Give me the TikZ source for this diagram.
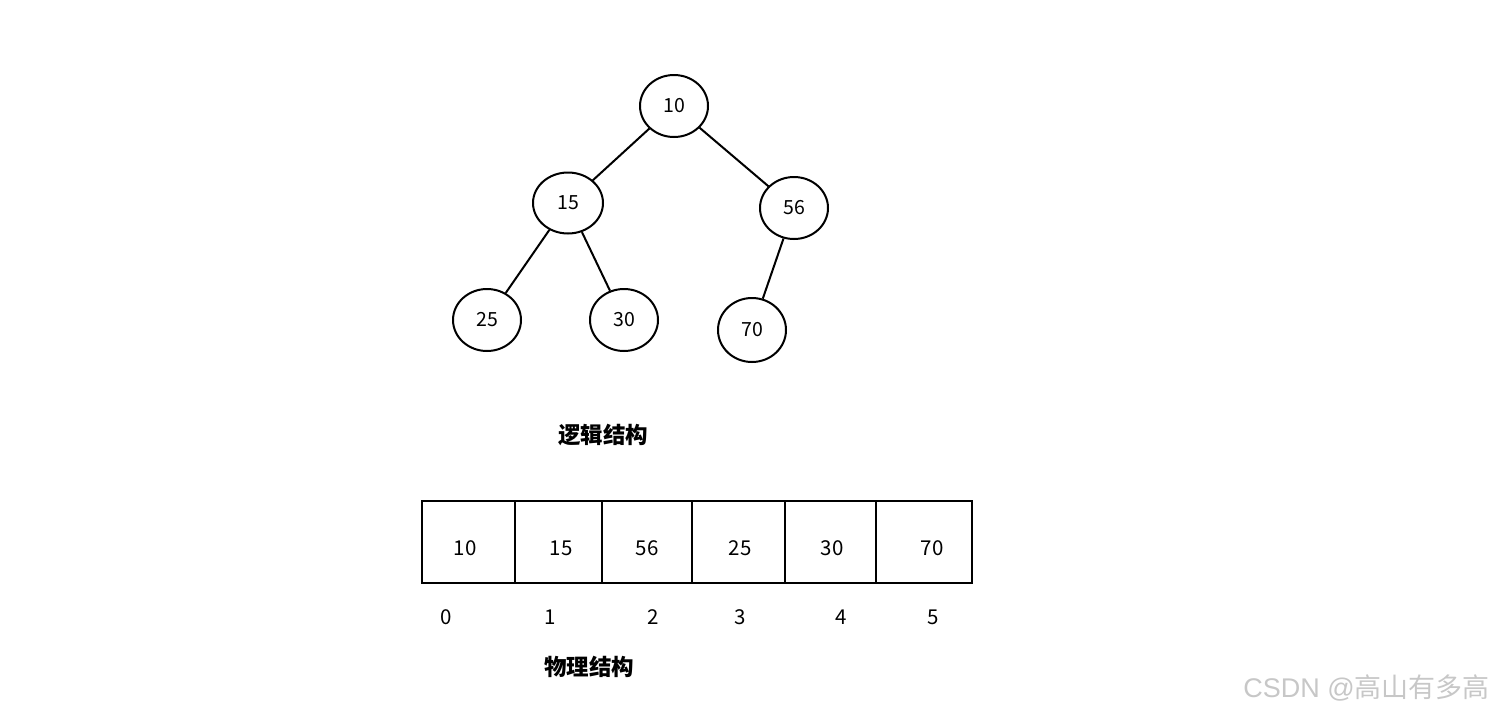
\documentclass[tikz,border=0pt]{standalone}
\usepackage{fontspec}
\setmainfont{Noto Sans CJK SC}
\newfontfamily\wmfont{Liberation Sans}
\usetikzlibrary{shapes.geometric}
\begin{document}
\begin{tikzpicture}[x=1pt,y=-1pt,
  tnode/.style={draw,ellipse,line width=2pt,minimum width=68pt,minimum height=62pt,inner sep=0pt,font=\fontsize{19.5}{21}\selectfont},
  tedge/.style={line width=2pt},
  cell/.style={draw,line width=2.2pt,minimum height=82pt,inner sep=0pt},
  val/.style={font=\fontsize{20.5}{22}\selectfont,inner sep=0pt},
  idx/.style={font=\fontsize{20.5}{22}\selectfont,inner sep=0pt},
  captext/.style={font=\fontsize{22.5}{24}\selectfont\bfseries,inner sep=0pt}]
\useasboundingbox (0,0) rectangle (1496,715);
% tree
\node[tnode] (n10) at (674,106) {10};
\node[tnode,minimum width=70pt,minimum height=61pt] (n15) at (568,203) {15};
\node[tnode] (n56) at (794,208) {56};
\node[tnode] (n25) at (487,320) {25};
\node[tnode] (n30) at (624,320) {30};
\node[tnode,minimum height=64pt] (n70) at (752,330) {70};
\draw[tedge] (n10) -- (n15);
\draw[tedge] (n10) -- (n56);
\draw[tedge] (n15) -- (n25);
\draw[tedge] (n15) -- (n30);
\draw[tedge] (n56) -- (n70);
\node[captext] (lg) at (603,435) {逻辑结构};
% array
\node[cell,minimum width=93pt] (c0) at (468.5,542) {};
\node[cell,minimum width=87pt] (c1) at (558.5,542) {};
\node[cell,minimum width=90pt] (c2) at (647,542) {};
\node[cell,minimum width=93pt] (c3) at (738.5,542) {};
\node[cell,minimum width=91pt] (c4) at (830.5,542) {};
\node[cell,minimum width=96pt] (c5) at (924,542) {};
\node[val] (v0) at (465,548) {10};
\node[val] (v1) at (561,548) {15};
\node[val] (v2) at (647,548) {56};
\node[val] (v3) at (740,548) {25};
\node[val] (v4) at (832,548) {30};
\node[val] (v5) at (932,548) {70};
\node[idx] (i0) at (446,617) {0};
\node[idx] (i1) at (550,617) {1};
\node[idx] (i2) at (653,617) {2};
\node[idx] (i3) at (740,617) {3};
\node[idx] (i4) at (841,617) {4};
\node[idx] (i5) at (933,617) {5};
\node[captext] (wl) at (589,667) {物理结构};
% watermark
\node[anchor=east,text=black!22,inner sep=0pt,font=\fontsize{27}{29}\selectfont] (wm) at (1490,688) {{\wmfont CSDN @}高山有多高};
\end{tikzpicture}
\end{document}
